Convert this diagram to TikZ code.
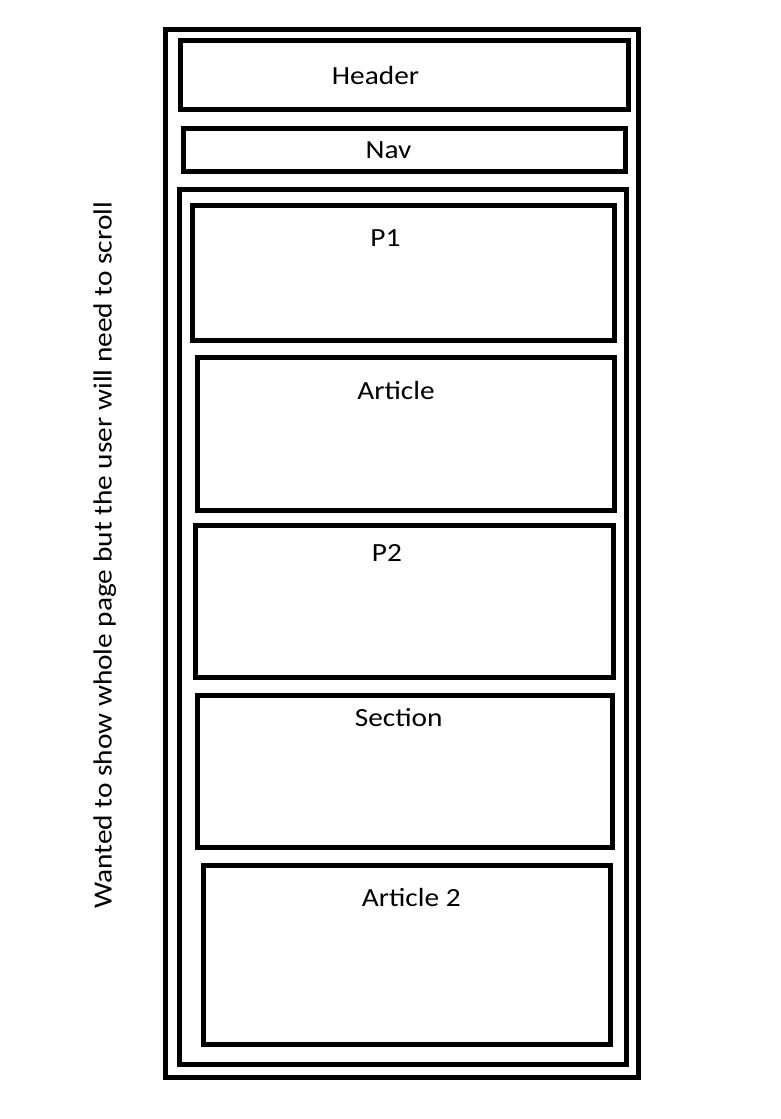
\documentclass[tikz,border=0pt]{standalone}
\usepackage{fontspec}
\setmainfont{Carlito}[FakeStretch=1.12]
\usepackage{tikz}

\tikzset{
  box/.style={draw, line width=5pt},
  lbl/.style={anchor=base, inner sep=0pt, font=\fontsize{26.2}{31}\selectfont}
}

\begin{document}
\begin{tikzpicture}[x=1pt, y=-1pt]
        \useasboundingbox (0,0) rectangle (781,1119);
        % page frame
        \draw[box] (165.5,29.5) rectangle (638,1077);
        \draw[box] (180.5,40.5) rectangle (628.5,109.5);
        \draw[box] (183,128) rectangle (625,171.5);
        \draw[box] (179,189.5) rectangle (626.5,1064);
        % content blocks
        \draw[box] (192.5,205.5) rectangle (614,340.5);
        \draw[box] (197.5,357.5) rectangle (614,510);
        \draw[box] (195,525) rectangle (613.5,677);
        \draw[box] (197.5,695) rectangle (612.5,847.5);
        \draw[box] (203,865) rectangle (610.5,1044);
        \node[lbl](header) at (375.5,84) {Header};
        \node[lbl](nav) at (388.5,158) {Nav};
        \node[lbl](p1) at (385.5,246) {P1};
        \node[lbl](article) at (396,399) {Article};
        \node[lbl](p2) at (387,561) {P2};
        \node[lbl](section) at (398.7,726.7) {Section};
        \node[lbl](article2) at (411.3,906) {Article 2};
        \node[lbl, anchor=base west, rotate=90](note) at (111.7,909) {Wanted to show whole page but the user will need to scroll};
        \end{tikzpicture}
\end{document}
